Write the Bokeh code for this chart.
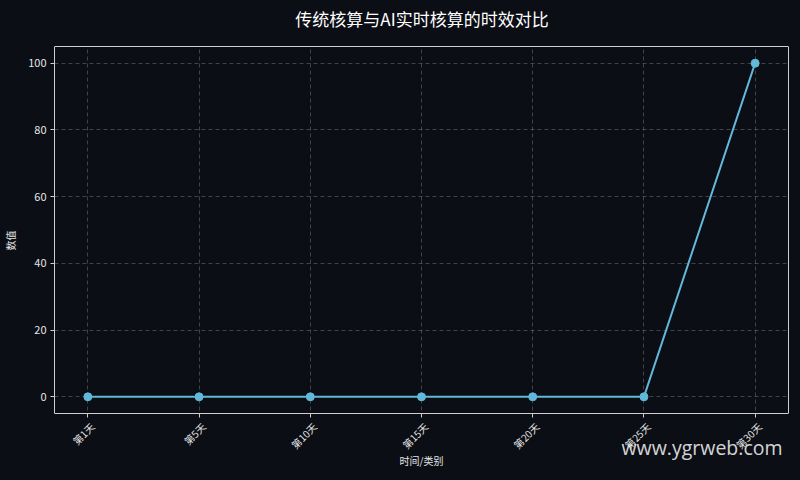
import math
from bokeh.plotting import figure
from bokeh.models import FixedTicker, Label, Range1d, LinearAxis, BoxAnnotation
from bokeh.embed import file_html
from bokeh.resources import INLINE

categories = ["第1天", "第5天", "第10天", "第15天", "第20天", "第25天", "第30天"]
values = [0, 0, 0, 0, 0, 0, 100]
y_ticks = [0, 20, 40, 60, 80, 100]
title_text = "传统核算与AI实时核算的时效对比"

BG = "#0b0e14"
FG = "#e6e6e6"
SPINE = "#cfcfcf"
LINE = "#62b8d8"
FONT = "Noto Sans CJK SC"

Y_LO, Y_HI = -5, 105            # visible data box (matplotlib-like margins)
Y_FRAME = (-25.08, 118.79)      # frame extends over title / labels / watermark area
X_PAD = 0.3
LABEL_SHIFT = 0.04              # centre rotated tick labels on their ticks

xs = list(range(len(categories)))

p = figure(width=800, height=480, output_backend="svg", toolbar_location=None,
           x_range=Range1d(-X_PAD, len(categories) - 1 + X_PAD),
           y_range=Range1d(*Y_FRAME),
           min_border_left=53, min_border_right=12, min_border_top=0, min_border_bottom=0,
           background_fill_color=BG, border_fill_color=BG)
p.extra_x_ranges = {"xlab": Range1d(-X_PAD - LABEL_SHIFT, len(categories) - 1 + X_PAD - LABEL_SHIFT)}
p.outline_line_color = None

def style_axis(ax):
    ax.axis_line_color = SPINE
    ax.major_tick_line_color = SPINE
    ax.major_tick_out = 4
    ax.major_tick_in = 0
    ax.minor_tick_line_color = None
    ax.major_label_text_color = FG
    ax.major_label_text_font = FONT
    ax.major_label_text_font_size = "10px"
    ax.axis_label_text_color = FG
    ax.axis_label_text_font = FONT
    ax.axis_label_text_font_size = "10px"
    ax.axis_label_text_font_style = "normal"

xa = p.xaxis[0]
ya = p.yaxis[0]
style_axis(xa)
style_axis(ya)

# main x axis: spine, ticks and axis title
xa.fixed_location = Y_LO
xa.ticker = FixedTicker(ticks=xs)
xa.major_label_overrides = {i: "" for i in xs}
xa.major_label_standoff = 0
xa.axis_label = "时间/类别"
xa.axis_label_standoff = 35

# label-only x axis (category names, rotated)
xl = LinearAxis(x_range_name="xlab", fixed_location=Y_LO, ticker=FixedTicker(ticks=xs))
style_axis(xl)
xl.axis_line_color = None
xl.major_tick_line_color = None
xl.major_label_overrides = {i: c for i, c in enumerate(categories)}
xl.major_label_orientation = math.pi / 4
xl.major_label_standoff = 7
p.add_layout(xl, "below")

ya.ticker = FixedTicker(ticks=y_ticks)
ya.bounds = (Y_LO, Y_HI)
ya.major_label_standoff = 4
ya.major_label_text_font_size = "11px"
ya.axis_label = "数值"
ya.axis_label_standoff = 7

# top and right spines (no ticks, no labels, no extra space)
def spine_axis(**kw):
    return LinearAxis(ticker=FixedTicker(ticks=[]), axis_line_color=SPINE,
                      major_tick_line_color=None, minor_tick_line_color=None,
                      major_tick_out=0, major_tick_in=0, minor_tick_out=0, minor_tick_in=0,
                      major_label_standoff=0, major_label_text_font_size="0px", **kw)

p.add_layout(spine_axis(fixed_location=Y_HI), "above")
p.add_layout(spine_axis(bounds=(Y_LO, Y_HI)), "right")

for g in (p.xgrid[0], p.ygrid[0]):
    g.grid_line_color = "#8a8a8a"
    g.grid_line_alpha = 0.55
    g.grid_line_dash = "4 3"
    g.grid_line_width = 0.8

# hide the grid outside the data box
p.add_layout(BoxAnnotation(top=Y_LO, fill_color=BG, fill_alpha=1, line_color=None, level="underlay"))
p.add_layout(BoxAnnotation(bottom=Y_HI, fill_color=BG, fill_alpha=1, line_color=None, level="underlay"))

p.line(xs, values, line_color=LINE, line_width=2)
p.scatter(xs, values, size=8, fill_color=LINE, line_color=LINE)

# chart title
p.add_layout(Label(x=367.5, y=462, x_units="screen", y_units="screen",
                   text=title_text, text_color="#ffffff", text_align="center",
                   text_baseline="middle", text_font=FONT, text_font_size="17px"))

# watermark
p.add_layout(Label(x=567, y=33, x_units="screen", y_units="screen",
                   text="www.ygrweb.com", text_color="#eeeeee", text_alpha=0.9,
                   text_baseline="alphabetic",
                   text_font="Open Sans", text_font_size="19.5px"))

html = file_html(p, INLINE, title="chart")
html = html.replace("<head>", "<head><style>html,body{background:#0b0e14;}</style>", 1)
open("out.html", "w").write(html)
